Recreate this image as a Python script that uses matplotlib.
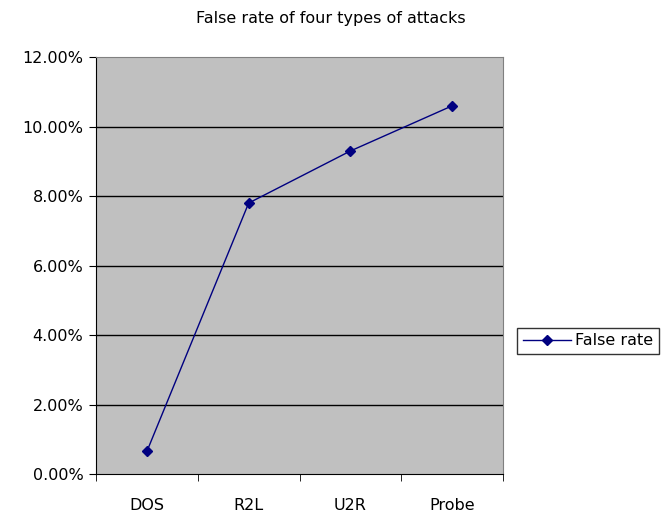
import matplotlib.pyplot as plt
import numpy as np

plt.rcParams['font.family'] = ['DejaVu Sans']

categories = ["DOS", "R2L", "U2R", "Probe"]
false_rate = [0.65, 7.8, 9.3, 10.6]
y_ticks = [0, 2, 4, 6, 8, 10, 12]

fig = plt.figure(figsize=(6.62, 5.15), dpi=100)
ax = fig.add_axes([0.145, 0.0796, 0.615, 0.8094])
ax.set_facecolor("#c0c0c0")

x = np.arange(len(categories))
ax.plot(x, false_rate, color="#000080", linewidth=1, marker="D",
        markersize=5, markerfacecolor="#000080", markeredgecolor="#000080",
        label="False rate", zorder=3)

ax.set_xlim(-0.5, len(categories) - 0.5)
ax.set_ylim(0, 12)
ax.set_yticks(y_ticks)
ax.set_yticklabels(["%.2f%%" % v for v in y_ticks], fontsize=11.5)
for v in y_ticks[1:-1]:
    ax.axhline(v, color="black", linewidth=1, zorder=1)

ax.set_xticks(x)
ax.set_xticklabels(categories, fontsize=11.5)
ax.set_xticks(np.arange(len(categories) + 1) - 0.5, minor=True)
ax.tick_params(axis="x", which="major", length=0, pad=17)
ax.tick_params(axis="x", which="minor", length=5, direction="out", color="black")
ax.tick_params(axis="y", length=5, direction="out", color="black", pad=4)

ax.spines["top"].set_color("#808080")
ax.spines["right"].set_color("#808080")
ax.spines["left"].set_color("black")
ax.spines["bottom"].set_color("black")

fig.text(0.5, 0.965, "False rate of four types of attacks", ha="center",
         va="center", fontsize=11.5)

leg = fig.legend(loc="center left", bbox_to_anchor=(0.781, 0.338),
                 borderaxespad=0, fontsize=11.5, frameon=True, fancybox=False,
                 borderpad=0.35, handlelength=3.0, handletextpad=0.3)
leg.get_frame().set_edgecolor("black")
leg.get_frame().set_linewidth(1)

fig.savefig("out.png", dpi=100)
